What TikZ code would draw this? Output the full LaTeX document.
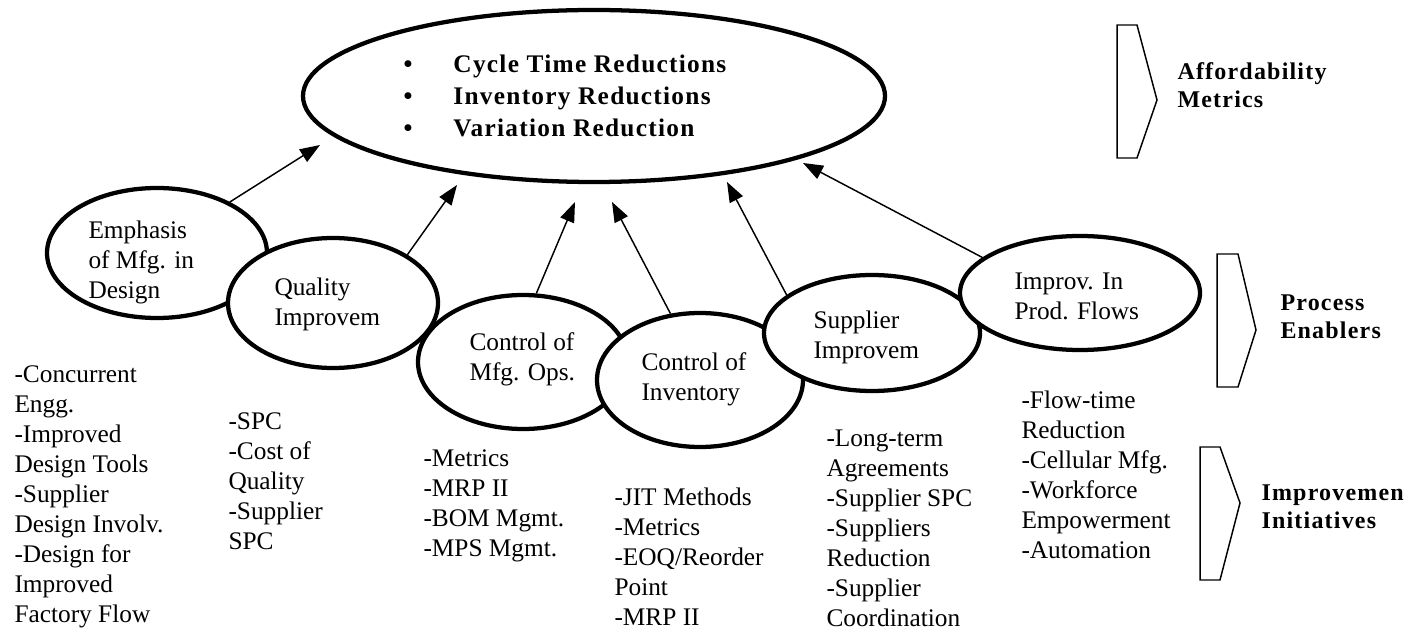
\documentclass[tikz,border=0pt]{standalone}
\usepackage{fontspec}
\setmainfont{Liberation Serif}
\newfontfamily\spacedfont{Liberation Serif}[LetterSpace=5]
\usetikzlibrary{shapes.geometric,arrows.meta}

\tikzset{every picture/.style={line width=0.75pt}}
\tikzset{
  bubble/.style={draw, ellipse, line width=3.2pt, fill=white, inner sep=0pt},
  txt/.style={anchor=north west, inner sep=0.75pt, align=left, font=\fontsize{19}{22.5}\selectfont},
  tag/.style={anchor=north west, inner sep=0.75pt, align=left, font=\spacedfont\bfseries\fontsize{18}{21}\selectfont},
  feed/.style={-{Triangle[length=15pt,width=11pt]}, line width=1.1pt},
  chevron/.style={line width=1.1pt, line join=miter},
}

\begin{document}
\begin{tikzpicture}[x=0.75pt,y=0.75pt,yscale=-1,xscale=1]
\path[use as bounding box] (0,0) rectangle (1416,634);

%Shape: Ellipse (goals)
\node (goal) [bubble, minimum width=436.5pt, minimum height=129pt] at (594,96) {};
%Shape: Ellipse (enablers)
\node (emph) [bubble, minimum width=165pt, minimum height=97.5pt] at (157,253) {};
\node (quality) [bubble, minimum width=157.5pt, minimum height=97.5pt] at (333,303) {};
\node (mfgops) [bubble, minimum width=157.5pt, minimum height=100.5pt] at (523,362) {};
\node (invctl) [bubble, minimum width=154.5pt, minimum height=100.5pt] at (700,380) {};
\node (suppl) [bubble, minimum width=162pt, minimum height=87pt] at (872,333) {};
\node (improv) [bubble, minimum width=180pt, minimum height=85.5pt] at (1080,293) {};

%Arrow ends
\coordinate (tipEmph) at (320,145);
\coordinate (tipQual) at (457,185);
\coordinate (tipMfg) at (575,202);
\coordinate (tipInv) at (612,202);
\coordinate (tipSupp) at (727,182);
\coordinate (tipImpr) at (803,163);

%Straight Lines
\draw [feed] (emph.35) -- (tipEmph);
%Straight Lines
\draw [feed] (quality.33) -- (tipQual);
%Straight Lines
\draw [feed] (mfgops.79) -- (tipMfg);
%Straight Lines
\draw [feed] (invctl.114) -- (tipInv);
%Straight Lines
\draw [feed] (suppl.156) -- (tipSupp);
%Straight Lines
\draw [feed] (improv.160) -- (tipImpr);

%Shape: Chevron
\draw [chevron] (1117,25) -- (1137,25) -- (1157,100) -- (1137,158) -- (1117,158) -- cycle;
%Shape: Chevron
\draw [chevron] (1217,254) -- (1238,254) -- (1256,330) -- (1238,387) -- (1217,387) -- cycle;
%Shape: Chevron
\draw [chevron] (1200,447) -- (1220,447) -- (1240,503) -- (1220,580) -- (1200,580) -- cycle;

% Text Node
\draw (403,54) node (goalTxt) [anchor=north west, inner sep=0pt, align=left, font=\spacedfont\bfseries\fontsize{19}{24}\selectfont]
  {\makebox[37.5pt][l]{\textbullet}Cycle Time Reductions\\
   \makebox[37.5pt][l]{\textbullet}Inventory Reductions\\
   \makebox[37.5pt][l]{\textbullet}Variation Reduction};
% Text Node
\draw (1176,61) node (affTxt) [tag] {Affordability\\Metrics};
% Text Node
\draw (1279,293) node (procTxt) [tag] {Process\\Enablers};
% Text Node
\draw (1260,483) node (initTxt) [tag] {Improvemen\\Initiatives};

% Text Node
\draw (87,219) node (emphTxt) [txt] {Emphasis\\of Mfg. in\\Design};
% Text Node
\draw (273,276) node (qualTxt) [txt] {Quality\\Improvem};
% Text Node
\draw (468,331) node (mfgTxt) [txt] {Control of\\Mfg. Ops.};
% Text Node
\draw (640,351) node (invTxt) [txt] {Control of\\Inventory};
% Text Node
\draw (812,309) node (suppTxt) [txt] {Supplier\\Improvem};
% Text Node
\draw (1013,271) node (imprTxt) [txt] {Improv. In\\Prod. Flows};

% Text Node
\draw (13,364) node (emphList) [txt] {-Concurrent\\Engg.\\-Improved\\Design Tools\\-Supplier\\Design Involv.\\-Design for\\Improved\\Factory Flow};
% Text Node
\draw (227,411) node (qualList) [txt] {-SPC\\-Cost of\\Quality\\-Supplier\\SPC};
% Text Node
\draw (422,448) node (mfgList) [txt] {-Metrics\\-MRP II\\-BOM Mgmt.\\-MPS Mgmt.};
% Text Node
\draw (613,486) node (invList) [txt] {-JIT Methods\\-Metrics\\-EOQ/Reorder\\Point\\-MRP II};
% Text Node
\draw (825,428) node (suppList) [txt] {-Long-term\\Agreements\\-Supplier SPC\\-Suppliers\\Reduction\\-Supplier\\Coordination};
% Text Node
\draw (1020,389) node (imprList) [txt] {-Flow-time\\Reduction\\-Cellular Mfg.\\-Workforce\\Empowerment\\-Automation};

\end{tikzpicture}
\end{document}
